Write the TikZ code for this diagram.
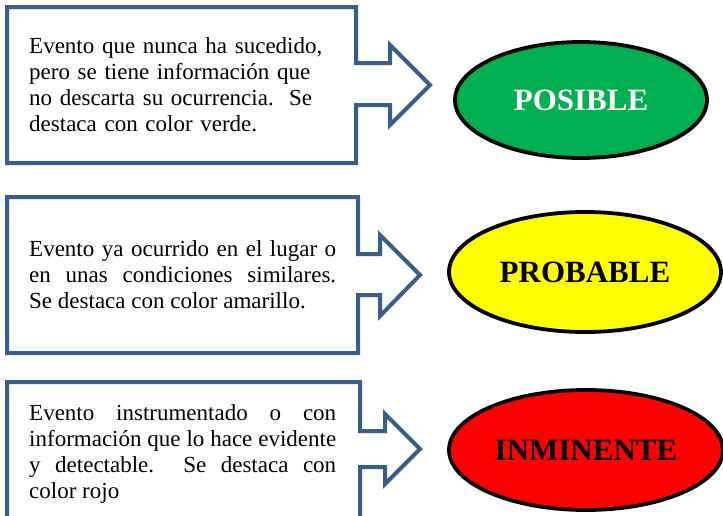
\documentclass[tikz,border=0pt]{standalone}
\usepackage{fontspec}
\setmainfont{Liberation Serif}
\definecolor{boxblue}{RGB}{58,94,140}
\definecolor{posgreen}{RGB}{0,176,80}
\definecolor{probyellow}{RGB}{255,255,0}
\definecolor{inmred}{RGB}{255,0,0}
\tikzset{
  callout/.style={draw=boxblue, line width=4pt, line join=miter, fill=white},
  level/.style={ellipse, draw=black, line width=3.8pt, inner sep=0pt},
  leveltext/.style={font=\fontsize{31}{34}\selectfont\bfseries},
  bodytext/.style={anchor=base west, inner sep=0pt, text width=307pt,
    font=\fontsize{23}{26.3}\selectfont},
}
\usetikzlibrary{shapes.geometric}
\begin{document}
\begin{tikzpicture}[x=1pt,y=-1pt]
\useasboundingbox (0,0) rectangle (723,515);
\clip (0,0) rectangle (723,515);
% callout 1
\draw[callout] (7,7) -- (356,7) -- (356,63) -- (390,63) -- (390,45) -- (430,85)
  -- (390,125) -- (390,105) -- (356,105) -- (356,163) -- (7,163) -- cycle;
% callout 2
\draw[callout] (7,197) -- (358,197) -- (358,254) -- (380,254) -- (380,235) -- (420,275)
  -- (380,316) -- (380,295) -- (358,295) -- (358,353) -- (7,353) -- cycle;
% callout 3 (cut by the lower edge)
\draw[callout] (7,382) -- (360,382) -- (360,431) -- (385,431) -- (385,414) -- (420,449)
  -- (385,484) -- (385,467) -- (360,467) -- (360,518) -- (7,518) -- cycle;
% texts
\node[bodytext, align=left] (t1) at (29,53)
  {Evento que nunca ha sucedido,\\ pero se tiene información que\\ no descarta su ocurrencia.\ \ Se\\ destaca con color verde.};
\node[bodytext, align=justify] (t2) at (29,256)
  {Evento ya ocurrido en el lugar o\linebreak en unas condiciones similares.\linebreak Se destaca con color amarillo.};
\node[bodytext, align=justify] (t3) at (29,420)
  {Evento instrumentado o con\linebreak información que lo hace evidente\linebreak y detectable.\ \ Se destaca con\linebreak color rojo};
% ellipses
\node[level, fill=posgreen, minimum width=252pt, minimum height=116pt] (e1) at (581,100) {};
\node[leveltext, text=white] (l1) at (e1.center) {POSIBLE};
\node[level, fill=probyellow, minimum width=272pt, minimum height=120pt] (e2) at (585,272) {};
\node[leveltext, text=black] (l2) at (e2.center) {PROBABLE};
\node[level, fill=inmred, minimum width=274pt, minimum height=120pt] (e3) at (586,450) {};
\node[leveltext, text=black] (l3) at (e3.center) {INMINENTE};
\end{tikzpicture}
\end{document}
